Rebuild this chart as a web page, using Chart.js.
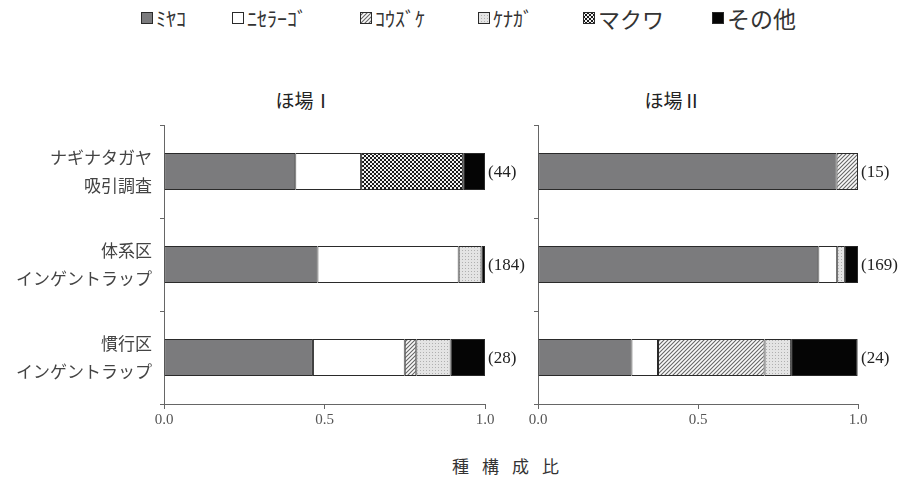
<!DOCTYPE html>
<html lang="ja">
<head>
<meta charset="utf-8">
<script src="https://cdn.jsdelivr.net/npm/chart.js@4"></script>
<style>
  body { margin: 0; background: #fff; }
  #page { position: relative; width: 919px; height: 482px; overflow: hidden; font-family: "Liberation Serif", "Noto Sans CJK JP", serif; color: #222; }
  canvas.chart { position: absolute; }
  .legend-item { position: absolute; top: 5px; height: 26px; display: flex; align-items: center; white-space: nowrap; }
  .legend-item canvas { margin-right: 3px; }
  .legend-item span { font-family: "Noto Sans CJK JP"; color: #333; }
  .panel-title { position: absolute; top: 86px; font-family: "Noto Sans CJK JP"; font-size: 19px; color: #222; transform: translateX(-50%); white-space: nowrap; }
  #x-title { position: absolute; top: 453px; left: 512px; transform: translateX(-50%); font-family: "Noto Sans CJK JP"; font-size: 17px; letter-spacing: 13px; color: #333; }
</style>
</head>
<body>
<div id="page">
  <div id="legend"></div>
  <div class="panel-title" style="left:304px">ほ場Ⅰ</div>
  <div class="panel-title" style="left:673px">ほ場Ⅱ</div>
  <canvas id="chart-left" class="chart" width="535" height="325" style="left:0;top:115px"></canvas>
  <canvas id="chart-right" class="chart" width="414" height="325" style="left:505px;top:115px"></canvas>
  <div id="x-title">種構成比</div>
</div>
<script>
const categories = [["ナギナタガヤ", "吸引調査"], ["体系区", "インゲントラップ"], ["慣行区", "インゲントラップ"]];
const species = ["ﾐﾔｺ", "ﾆｾﾗｰｺﾞ", "ｺｳｽﾞｹ", "ｹﾅｶﾞ", "マクワ", "その他"];
const xTicks = [0, 0.5, 1];

// ほ場I の種構成比
const miyako1 = [0.409, 0.478, 0.464];
const nisera1 = [0.205, 0.440, 0.286];
const kouzuke1 = [0, 0, 0.036];
const kenaga1 = [0, 0.071, 0.107];
const makuwa1 = [0.318, 0, 0];
const other1 = [0.068, 0.011, 0.107];
const counts1 = [44, 184, 28];

// ほ場II の種構成比
const miyako2 = [0.933, 0.876, 0.292];
const nisera2 = [0, 0.059, 0.083];
const kouzuke2 = [0.067, 0, 0.333];
const kenaga2 = [0, 0.024, 0.083];
const makuwa2 = [0, 0, 0];
const other2 = [0, 0.041, 0.208];
const counts2 = [15, 169, 24];

const edgeColor = "#2a2a2a";
const textColor = "#444";

function makeFill(kind, ctx) {
  const c = document.createElement("canvas");
  const g = c.getContext("2d");
  if (kind === "gray") return "#7b7b7d";
  if (kind === "white") return "#ffffff";
  if (kind === "black") return "#050505";
  if (kind === "hatch") {
    c.width = c.height = 4;
    g.fillStyle = "#fafafa"; g.fillRect(0, 0, 4, 4);
    g.strokeStyle = "#666"; g.lineWidth = 1.1;
    g.beginPath();
    g.moveTo(0, 4); g.lineTo(4, 0);
    g.moveTo(-1, 1); g.lineTo(1, -1);
    g.moveTo(3, 5); g.lineTo(5, 3);
    g.stroke();
  } else if (kind === "dots") {
    c.width = c.height = 3;
    g.fillStyle = "#e4e4e4"; g.fillRect(0, 0, 3, 3);
    g.fillStyle = "#b0b0b0"; g.fillRect(0, 0, 1, 1);
  } else if (kind === "checker") {
    c.width = c.height = 4;
    g.fillStyle = "#f2f2f2"; g.fillRect(0, 0, 4, 4);
    g.fillStyle = "#1a1a1a"; g.fillRect(0, 0, 2, 2); g.fillRect(2, 2, 2, 2);
  }
  return ctx.createPattern(c, "repeat");
}

const fillKinds = ["gray", "white", "hatch", "dots", "checker", "black"];
const legendLeft = [141, 232, 360, 478, 583, 712];
const legendSize = [20, 20, 20, 20, 22, 23];

function buildLegend() {
  const legendEl = document.getElementById("legend");
  species.forEach((name, i) => {
    const item = document.createElement("div");
    item.className = "legend-item";
    item.style.left = legendLeft[i] + "px";
    const sw = document.createElement("canvas");
    sw.width = 12; sw.height = 12;
    const g = sw.getContext("2d");
    g.fillStyle = makeFill(fillKinds[i], g);
    g.fillRect(0, 0, 12, 12);
    g.strokeStyle = edgeColor; g.lineWidth = 1;
    g.strokeRect(0.5, 0.5, 11, 11);
    const label = document.createElement("span");
    label.textContent = name;
    label.style.fontSize = legendSize[i] + "px";
    item.appendChild(sw);
    item.appendChild(label);
    legendEl.appendChild(item);
  });
}

const countLabels = {
  id: "countLabels",
  afterDatasetsDraw(chart, args, opts) {
    const { ctx, scales } = chart;
    ctx.save();
    ctx.font = "17px 'Liberation Serif'";
    ctx.fillStyle = "#222";
    ctx.textAlign = "left";
    ctx.textBaseline = "middle";
    opts.counts.forEach((n, i) => {
      ctx.fillText(`(${n})`, scales.x.getPixelForValue(1) + 3, scales.y.getPixelForValue(i) + 1);
    });
    ctx.restore();
  },
};

function makeChart(canvasId, seriesList, counts, showLabels, axisWidth, padRight) {
  const canvas = document.getElementById(canvasId);
  const ctx = canvas.getContext("2d");
  return new Chart(canvas, {
    type: "bar",
    data: {
      labels: categories,
      datasets: seriesList.map((values, i) => ({
        label: species[i],
        data: values.map((v) => (v > 0 ? v : null)),
        backgroundColor: makeFill(fillKinds[i], ctx),
        borderColor: edgeColor,
        borderWidth: 1,
        borderSkipped: false,
        barPercentage: 0.4,
        categoryPercentage: 1,
      })),
    },
    options: {
      indexAxis: "y",
      responsive: false,
      animation: false,
      devicePixelRatio: 1,
      layout: { padding: { top: 10, right: padRight, left: 0, bottom: 0 } },
      plugins: { legend: { display: false }, tooltip: { enabled: false }, countLabels: { counts } },
      scales: {
        x: {
          stacked: true,
          min: 0,
          max: 1,
          afterBuildTicks: (scale) => { scale.ticks = xTicks.map((v) => ({ value: v })); },
          afterFit: (scale) => { scale.height = 36; scale.paddingLeft = 0; scale.paddingRight = 0; },
          ticks: { callback: (v) => Number(v).toFixed(1), color: "#555", font: { family: "Liberation Serif", size: 15 }, padding: 2, maxRotation: 0 },
          grid: { drawOnChartArea: false, drawTicks: true, tickLength: 5, color: "#666" },
          border: { display: true, color: "#666", width: 1 },
        },
        y: {
          stacked: true,
          afterFit: (scale) => { scale.width = axisWidth; scale.paddingTop = 0; scale.paddingBottom = 0; },
          ticks: { display: showLabels, color: textColor, font: { family: "Noto Sans CJK JP", size: 17, lineHeight: 1.65 }, padding: 8 },
          grid: { offset: true, drawOnChartArea: false, drawTicks: true, tickLength: 4, color: "#666" },
          border: { display: true, color: "#666", width: 1 },
        },
      },
    },
    plugins: [countLabels],
  });
}

buildLegend();
makeChart("chart-left", [miyako1, nisera1, kouzuke1, kenaga1, makuwa1, other1], counts1, true, 164, 50);
makeChart("chart-right", [miyako2, nisera2, kouzuke2, kenaga2, makuwa2, other2], counts2, false, 33, 61);
</script>
</body>
</html>
